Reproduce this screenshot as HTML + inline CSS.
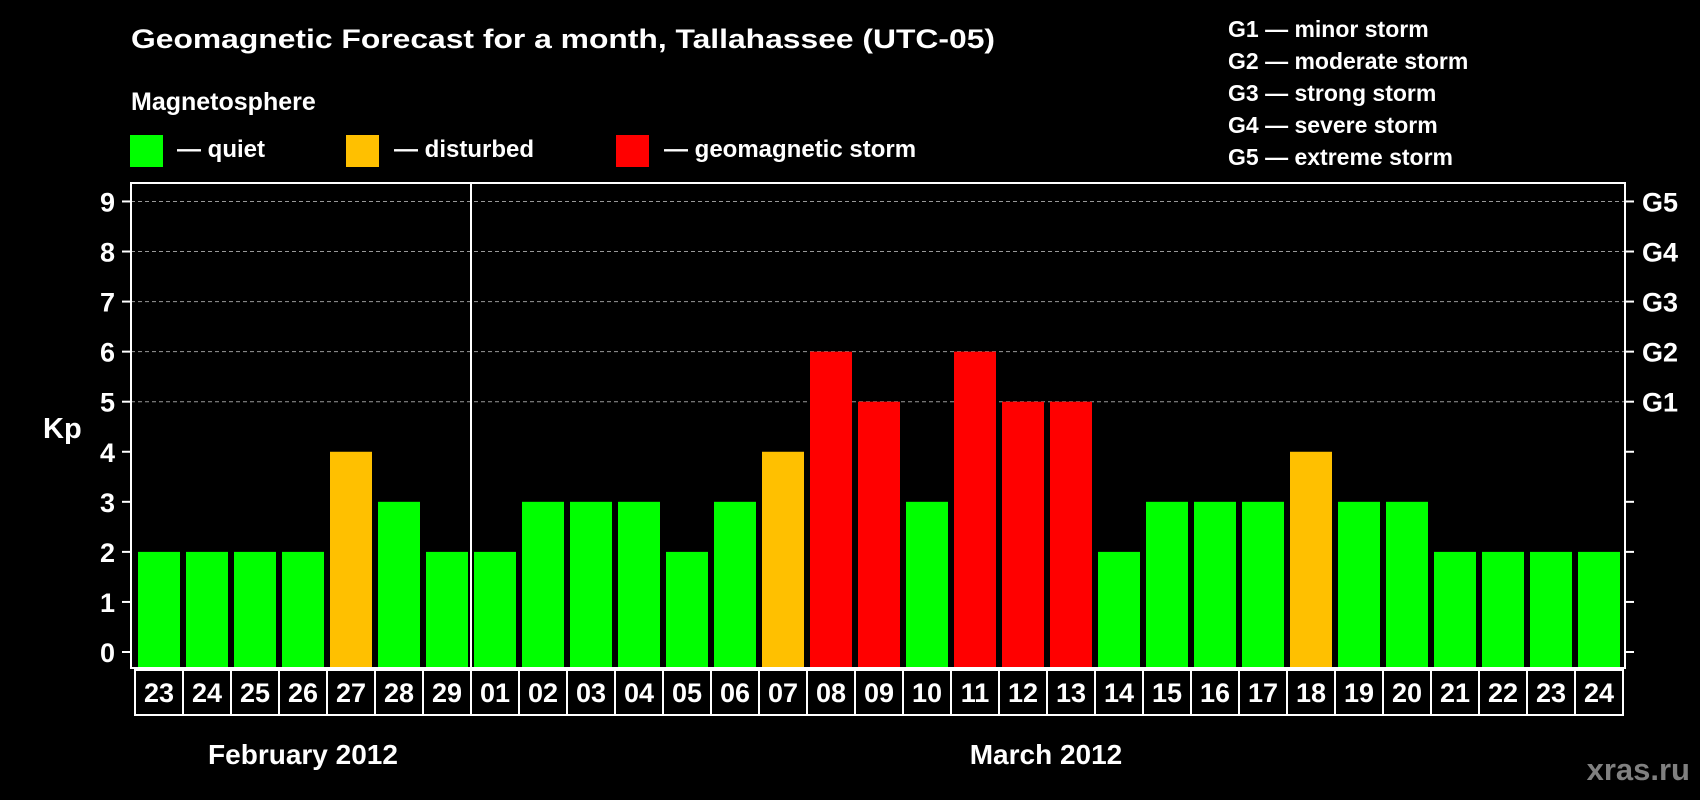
<!DOCTYPE html>
<html><head><meta charset="utf-8"><style>
html,body{margin:0;padding:0;background:#000;}
svg{display:block;font-family:"Liberation Sans",Arial,sans-serif;font-weight:bold;}
</style></head><body>
<svg id="chart" width="1700" height="800" viewBox="0 0 1700 800">
<rect width="1700" height="800" fill="#000"/>
<text x="131" y="48" fill="#fff" font-size="27" textLength="864" lengthAdjust="spacingAndGlyphs">Geomagnetic Forecast for a month, Tallahassee (UTC-05)</text>
<text x="131" y="110" fill="#fff" font-size="25">Magnetosphere</text>
<g><rect x="130" y="135" width="33" height="32" fill="#00ff00"/><text x="177" y="157" fill="#fff" font-size="24">— quiet</text></g>
<g><rect x="346" y="135" width="33" height="32" fill="#ffc000"/><text x="394" y="157" fill="#fff" font-size="24">— disturbed</text></g>
<g><rect x="616" y="135" width="33" height="32" fill="#ff0000"/><text x="664" y="157" fill="#fff" font-size="24">— geomagnetic storm</text></g>
<g fill="#fff" font-size="23">
<text x="1228" y="37">G1 — minor storm</text>
<text x="1228" y="69">G2 — moderate storm</text>
<text x="1228" y="101">G3 — strong storm</text>
<text x="1228" y="133">G4 — severe storm</text>
<text x="1228" y="165">G5 — extreme storm</text>
</g>
<text x="43" y="438" fill="#fff" font-size="29">Kp</text>
<g id="grid"></g><g id="bars"></g><g id="axes"></g><g id="dates"></g>
<text x="303" y="764" fill="#fff" font-size="28" text-anchor="middle">February 2012</text>
<text x="1046" y="764" fill="#fff" font-size="28" text-anchor="middle">March 2012</text>
<text x="1690" y="780" fill="#808080" font-size="31" text-anchor="end">xras.ru</text>
</svg>
<script>
const days = ["23","24","25","26","27","28","29","01","02","03","04","05","06","07","08","09","10","11","12","13","14","15","16","17","18","19","20","21","22","23","24"];
const kpValues = [2,2,2,2,4,3,2,2,3,3,3,2,3,4,6,5,3,6,5,5,2,3,3,3,4,3,3,2,2,2,2];
const yTicks = [0,1,2,3,4,5,6,7,8,9];
const gLabels = ["G1","G2","G3","G4","G5"];
const monthBreakIndex = 7;

const NS = "http://www.w3.org/2000/svg";
const plotL = 131, plotR = 1625, plotT = 183, plotB = 668;
const y0 = 652, unit = 50.06;
const slot = 48.0, barX0 = 138, barW = 42;
function yScale(v){ return y0 - v*unit; }
function xScale(i){ return barX0 + i*slot; }
function mk(tag, attrs, parent){ const e=document.createElementNS(NS,tag); for(const k in attrs) e.setAttribute(k,attrs[k]); parent.appendChild(e); return e; }
function colorFor(v){ return v>=5 ? "#ff0000" : (v>=4 ? "#ffc000" : "#00ff00"); }

const grid=document.getElementById("grid"), bars=document.getElementById("bars"), axes=document.getElementById("axes"), dates=document.getElementById("dates");

yTicks.forEach(t=>{
  const y=yScale(t);
  if(t>=5){
    const g=mk("line",{x1:plotL,x2:plotR,y1:y,y2:y,stroke:"#999","stroke-width":1,"stroke-dasharray":"4,3"},grid);
    
    
  }
  const tl=mk("line",{x1:plotL-9,x2:plotL,y1:y,y2:y,stroke:"#fff","stroke-width":2},axes);
  
  
  const tr=mk("line",{x1:plotR,x2:plotR+9,y1:y,y2:y,stroke:"#fff","stroke-width":2},axes);
  
  
  const lab=mk("text",{x:115,y:y+10,fill:"#fff","font-size":27,"text-anchor":"end"},axes);
  lab.textContent=t;
  
  
});
gLabels.forEach((g,i)=>{
  const t=mk("text",{x:1642,y:yScale(5+i)+10,fill:"#fff","font-size":27},axes);
  t.textContent=g;
  
  
});

kpValues.forEach((v,i)=>{
  const r=mk("rect",{x:xScale(i),y:yScale(v),width:barW,height:plotB-1-yScale(v),fill:colorFor(v)},bars);
  
  
});

const frame=mk("rect",{x:plotL,y:plotT,width:plotR-plotL,height:plotB-plotT,fill:"none",stroke:"#fff","stroke-width":2},axes);


const sx=xScale(monthBreakIndex)-3;
const sep=mk("line",{x1:sx,x2:sx,y1:plotT,y2:plotB,stroke:"#fff","stroke-width":2},axes);



const boxT=670, boxB=715;
days.forEach((d,i)=>{
  const left=xScale(i)-3, w=slot;
  const b=mk("rect",{x:left,y:boxT,width:w,height:boxB-boxT,fill:"none",stroke:"#fff","stroke-width":2},dates);
  
  
  const t=mk("text",{x:xScale(i)+barW/2,y:702,fill:"#fff","font-size":27,"text-anchor":"middle"},dates);
  t.textContent=d;
  
  
});
</script>
</body></html>
